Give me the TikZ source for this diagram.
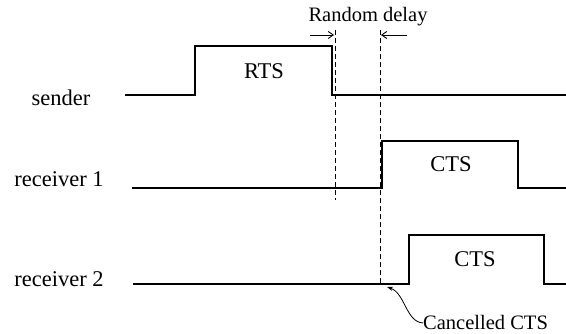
\documentclass[tikz,border=0pt]{standalone}
\usepackage{fontspec}
\setmainfont{Liberation Serif}
\usetikzlibrary{arrows.meta}
\begin{document}
\begin{tikzpicture}[x=1pt,y=-1pt,
  sig/.style={line width=2pt, line join=miter},
  guide/.style={line width=0.9pt, dash pattern=on 5pt off 3pt},
  lbl/.style={inner sep=0pt, anchor=base, font=\fontsize{22.5}{26}\selectfont},
  small/.style={inner sep=0pt, anchor=base, font=\fontsize{20.5}{24}\selectfont},
  marker/.style={line width=0.9pt, -{Straight Barb[length=5pt,width=7pt]}}]
\useasboundingbox (0,0) rectangle (566,334);
% labels
\node[lbl] (ls) at (61,106) {sender};
\node[lbl] (lr1) at (59,187) {receiver 1};
\node[lbl] (lr2) at (59,287) {receiver 2};
\node[lbl] (rts) at (264,79) {RTS};
\node[lbl] (cts1) at (451,172) {CTS};
\node[lbl] (cts2) at (475,267) {CTS};
\node[small] (rd) at (368,22) {Random delay};
\node[small, anchor=base west] (cc) at (423,330) {Cancelled CTS};
% sender
\draw[sig] (125,95) -- (195,95) -- (195,46) -- (332,46) -- (332,95) -- (566,95);
% receiver 1
\draw[sig] (132,188) -- (382,188) -- (382,141) -- (518,141) -- (518,188) -- (566,188);
% receiver 2
\draw[sig] (133,284) -- (409,284) -- (409,235) -- (544,235) -- (544,284) -- (566,284);
% guides
\coordinate (g1t) at (335,30);
\coordinate (g1b) at (335,200);
\coordinate (g2t) at (380,30);
\coordinate (g2b) at (380,285);
\draw[guide] (g1t) -- (g1b);
\draw[guide] (g2t) -- (g2b);
% random delay arrows
\coordinate (a1s) at (310,35);
\coordinate (a1e) at (334,35);
\coordinate (a2s) at (407,35);
\coordinate (a2e) at (381,35);
\draw[marker] (a1s) -- (a1e);
\draw[marker] (a2s) -- (a2e);
% cancelled arrow
\coordinate (ct) at (387,287);
\draw[line width=0.8pt, -{Stealth[length=6pt,width=4pt]}] (cc.west) .. controls (406,322) and (405,293) .. (ct);
\end{tikzpicture}
\end{document}
